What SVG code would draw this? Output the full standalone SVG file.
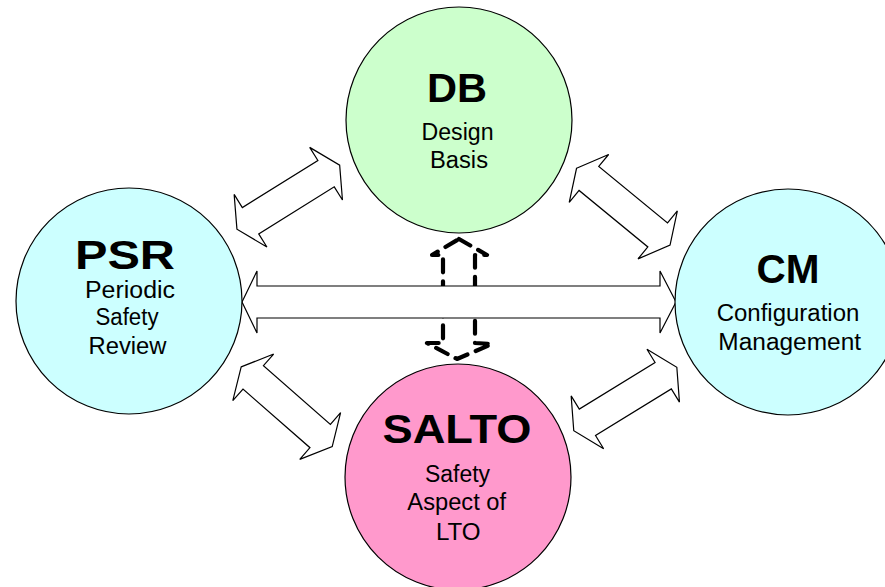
<svg xmlns="http://www.w3.org/2000/svg" width="885" height="587" viewBox="0 0 885 587">
<style>
.bg{fill:#ffffff}
.circ{stroke:#000;stroke-width:1.2}
.green{fill:#ccffcc}
.cyan{fill:#ccffff}
.pink{fill:#ff99cc}
.blk{fill:#fff;stroke:#000;stroke-width:1.2;stroke-linejoin:miter}
.dash{fill:none;stroke:#000;stroke-width:4.2;stroke-dasharray:13 9;stroke-linecap:round;stroke-linejoin:round}
.big{font-family:"Liberation Sans",Arial,sans-serif;font-weight:bold;font-size:41px;fill:#000;text-anchor:middle}
.sm{font-family:"Liberation Sans",Arial,sans-serif;font-size:23.5px;fill:#000;text-anchor:middle}
</style>
<defs>
<path id="dbl" d="M-60.5,0 L-44.5,-31 L-44.5,-15.5 L44.5,-15.5 L44.5,-31 L60.5,0 L44.5,31 L44.5,15.5 L-44.5,15.5 L-44.5,31 Z"/>
</defs>
<rect class="bg" x="0" y="0" width="885" height="587"/>
<g id="connectors">
<use href="#dbl" class="blk" transform="translate(288.3,197.2) rotate(-31.9)"/>
<use href="#dbl" class="blk" transform="translate(623.3,206.7) rotate(39.4)"/>
<use href="#dbl" class="blk" transform="translate(286.7,406.7) rotate(41.2)"/>
<use href="#dbl" class="blk" transform="translate(625.3,399) rotate(-31.6)"/>
<path class="dash" d="M459,239 L487,255 L475,255 L475,343 L492,344 L457,359 L427,343 L443,343 L443,255 L432,255 Z"/>
<path class="blk" d="M242,302 L257,271 L257,286 L660,286 L660,271 L676,302 L660,333 L660,318 L257,318 L257,333 Z"/>
</g>
<g id="DB">
<circle class="circ green" cx="459" cy="120" r="113"/>
<text class="big" x="457" y="102" textLength="60" lengthAdjust="spacingAndGlyphs">DB</text>
<text class="sm" x="457.5" y="140" textLength="72" lengthAdjust="spacingAndGlyphs">Design</text>
<text class="sm" x="459" y="168" textLength="58" lengthAdjust="spacingAndGlyphs">Basis</text>
</g>
<g id="PSR">
<circle class="circ cyan" cx="129" cy="301" r="113"/>
<text class="big" x="125" y="269" textLength="100" lengthAdjust="spacingAndGlyphs">PSR</text>
<text class="sm" x="130" y="298" textLength="90" lengthAdjust="spacingAndGlyphs">Periodic</text>
<text class="sm" x="127" y="325" textLength="63" lengthAdjust="spacingAndGlyphs">Safety</text>
<text class="sm" x="127.5" y="354" textLength="78" lengthAdjust="spacingAndGlyphs">Review</text>
</g>
<g id="CM">
<circle class="circ cyan" cx="788" cy="302" r="113"/>
<text class="big" x="788" y="283" textLength="63" lengthAdjust="spacingAndGlyphs">CM</text>
<text class="sm" x="788" y="321" textLength="142.7" lengthAdjust="spacingAndGlyphs">Configuration</text>
<text class="sm" x="789.7" y="350" textLength="142.7" lengthAdjust="spacingAndGlyphs">Management</text>
</g>
<g id="SALTO">
<circle class="circ pink" cx="458" cy="477" r="113"/>
<text class="big" x="457" y="443" textLength="149" lengthAdjust="spacingAndGlyphs">SALTO</text>
<text class="sm" x="457.5" y="482" textLength="65" lengthAdjust="spacingAndGlyphs">Safety</text>
<text class="sm" x="456.7" y="510" textLength="98.7" lengthAdjust="spacingAndGlyphs">Aspect of</text>
<text class="sm" x="458.3" y="540" textLength="44.7" lengthAdjust="spacingAndGlyphs">LTO</text>
</g>
</svg>
